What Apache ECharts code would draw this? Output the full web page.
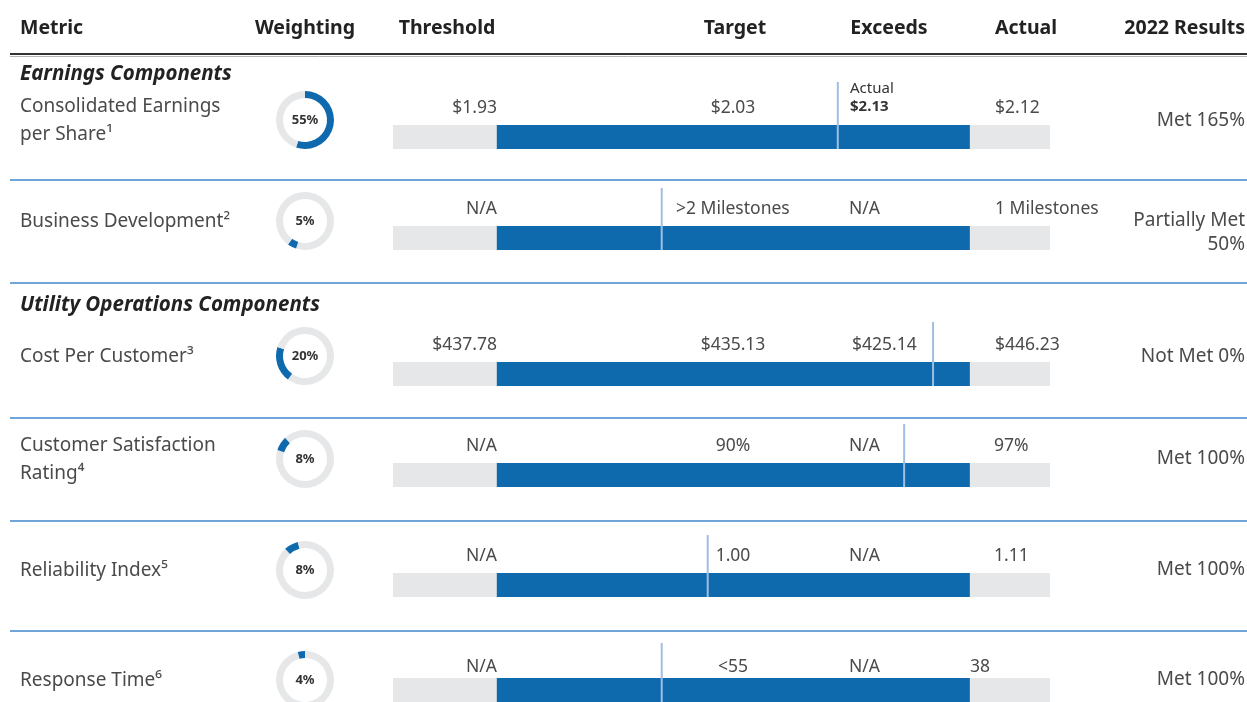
<!DOCTYPE html>
<html>
<head>
<meta charset="utf-8">
<script src="https://cdn.jsdelivr.net/npm/echarts@6/dist/echarts.min.js"></script>
<style>
  html, body { margin: 0; padding: 0; background: #fff; }
  #chart { width: 1247px; height: 702px; }
</style>
</head>
<body>
<div id="chart"></div>
<script>
// column headers
const headers = ['Metric', 'Weighting', 'Threshold', 'Target', 'Exceeds', 'Actual', '2022 Results'];
const sections = ['Earnings Components', 'Utility Operations Components'];

// one entry per metric row
const metrics = ['Consolidated Earnings\nper Share¹', 'Business Development²', 'Cost Per Customer³',
  'Customer Satisfaction\nRating⁴', 'Reliability Index⁵', 'Response Time⁶'];
const weights = [55, 5, 20, 8, 8, 4];
const thresholds = ['$1.93', 'N/A', '$437.78', 'N/A', 'N/A', 'N/A'];
const targets = ['$2.03', '>2 Milestones', '$435.13', '90%', '1.00', '<55'];
const exceeds = ['$2.13', 'N/A', '$425.14', 'N/A', 'N/A', 'N/A'];
const actuals = ['$2.12', '1 Milestones', '$446.23', '97%', '1.11', '38'];
const results = ['Met 165%', 'Partially Met\n50%', 'Not Met 0%', 'Met 100%', 'Met 100%', 'Met 100%'];

// bar positions on a 0-100 performance scale
const barStart = [15.8, 15.8, 15.8, 15.8, 15.8, 15.8];
const barEnd = [87.8, 87.8, 87.8, 87.8, 87.8, 87.8];
const markers = [67.7, 40.9, 82.2, 77.8, 47.9, 40.9];

// layout
const BLUE = '#0e6aad';
const GRAY = '#e6e7e8';
const MARK = '#9fbee3';
const RULE = '#6fa6da';
const TEXT = '#4a4a4a';
const FONT = '"Noto Sans", "Open Sans", sans-serif';
const BAR_H = 24;
const rowCenter = [120, 221, 356, 459, 570, 680];
const resultY = [121, 233, 357, 459, 570, 680];
const barTop = [125, 226, 362, 463, 573, 684];
const markTop = [82, 188, 322, 424, 535, 643];
const sectionY = [74, 305];
const ruleY = [180, 283, 418, 521, 631];
const headerX = [20, 305, 447, 735, 889, 1026, 1245];
const headerAlign = ['left', 'center', 'center', 'center', 'center', 'center', 'right'];
const actualX = [995, 995, 995, 994, 994, 970];

const chart = echarts.init(document.getElementById('chart'));

function txt(text, x, y, size, align, opts) {
  opts = opts || {};
  return {
    type: 'text',
    silent: true,
    style: {
      text: text, x: x, y: y,
      fill: opts.fill || TEXT,
      font: (opts.style || 'normal') + ' ' + (opts.weight || 'normal') + ' ' + size + 'px ' + FONT,
      align: align, textAlign: align,
      verticalAlign: 'middle', textVerticalAlign: 'middle',
      lineHeight: opts.lineHeight || 28
    }
  };
}

const graphics = [];
headers.forEach((h, i) => graphics.push(txt(h, headerX[i], 28, 19.5, headerAlign[i], { weight: 'bold', fill: '#222' })));
graphics.push({ type: 'line', silent: true, shape: { x1: 10, y1: 54, x2: 1247, y2: 54 }, style: { stroke: '#333', lineWidth: 2 } });
graphics.push({ type: 'line', silent: true, shape: { x1: 10, y1: 56.5, x2: 1247, y2: 56.5 }, style: { stroke: '#b5b5b5', lineWidth: 1 } });
sections.forEach((s, i) => graphics.push(txt(s, 20, sectionY[i], 20.5, 'left', { weight: 'bold', style: 'italic', fill: '#222' })));
ruleY.forEach(y => graphics.push({ type: 'line', silent: true, shape: { x1: 10, y1: y, x2: 1247, y2: y }, style: { stroke: RULE, lineWidth: 2 } }));

metrics.forEach((m, i) => {
  const ly = barTop[i] - 17;
  graphics.push(txt(m, 20, m.indexOf('\n') >= 0 ? rowCenter[i] + 0.5 : rowCenter[i] + 1, 19, 'left'));
  graphics.push(txt(thresholds[i], 497, ly, 17.5, 'right'));
  if (i === 0) {
    graphics.push(txt('Actual', 850, 89, 15, 'left', { fill: '#333' }));
    graphics.push(txt(exceeds[i], 850, 107, 15, 'left', { weight: 'bold', fill: '#333' }));
    graphics.push(txt(targets[i], 733, ly, 17.5, 'center'));
  } else if (i === 1) {
    graphics.push(txt(targets[i], 676, ly, 17.5, 'left'));
    graphics.push(txt(exceeds[i], 849, ly, 17.5, 'left'));
  } else {
    graphics.push(txt(targets[i], 733, ly, 17.5, 'center'));
    graphics.push(txt(exceeds[i], i === 2 ? 852 : 849, ly, 17.5, 'left'));
  }
  graphics.push(txt(actuals[i], actualX[i], ly, 17.5, 'left'));
  graphics.push(txt(results[i], 1245, resultY[i], 19, 'right', { lineHeight: 24 }));
});

const grids = [], xAxes = [], yAxes = [], series = [];
let offset = 0;
metrics.forEach((m, i) => {
  grids.push({ left: 393, width: 657, top: markTop[i], height: barTop[i] + BAR_H - markTop[i] });
  xAxes.push({ gridIndex: i, type: 'value', min: 0, max: 100, show: false });
  yAxes.push({ gridIndex: i, type: 'value', min: 0, max: 1, show: false });
  series.push({
    type: 'custom',
    xAxisIndex: i, yAxisIndex: i,
    silent: true,
    encode: { x: [0, 1, 2], y: 3 },
    data: [[barStart[i], barEnd[i], markers[i], 0]],
    renderItem: function (params, api) {
      const cs = params.coordSys;
      const bottom = cs.y + cs.height;
      const top = bottom - BAR_H;
      const x0 = api.coord([0, 0])[0];
      const x1 = api.coord([100, 0])[0];
      const bs = api.coord([api.value(0), 0])[0];
      const be = api.coord([api.value(1), 0])[0];
      const mk = api.coord([api.value(2), 0])[0];
      return {
        type: 'group',
        children: [
          { type: 'rect', shape: { x: x0, y: top, width: x1 - x0, height: BAR_H }, style: { fill: GRAY } },
          { type: 'rect', shape: { x: bs, y: top, width: be - bs, height: BAR_H }, style: { fill: BLUE } },
          { type: 'line', shape: { x1: mk, y1: cs.y, x2: mk, y2: bottom }, style: { stroke: MARK, lineWidth: 2 } }
        ]
      };
    }
  });

  // weighting donut, each slice placed after the previous metrics' share
  const rest = 100 - offset - weights[i];
  series.push({
    type: 'pie',
    silent: true,
    center: [305, rowCenter[i]],
    radius: [22, 29],
    startAngle: 90,
    clockwise: true,
    avoidLabelOverlap: false,
    labelLine: { show: false },
    label: { show: false },
    emphasis: { disabled: true },
    data: [
      { value: offset, itemStyle: { color: GRAY } },
      {
        value: weights[i], itemStyle: { color: BLUE },
        label: { show: true, position: 'center', formatter: '{c}%', fontFamily: FONT, fontWeight: 'bold', fontSize: 13, color: '#333' }
      },
      { value: rest, itemStyle: { color: GRAY } }
    ]
  });
  offset += weights[i];
});

chart.setOption({
  animation: false,
  grid: grids,
  xAxis: xAxes,
  yAxis: yAxes,
  series: series,
  graphic: graphics
});
</script>
</body>
</html>
